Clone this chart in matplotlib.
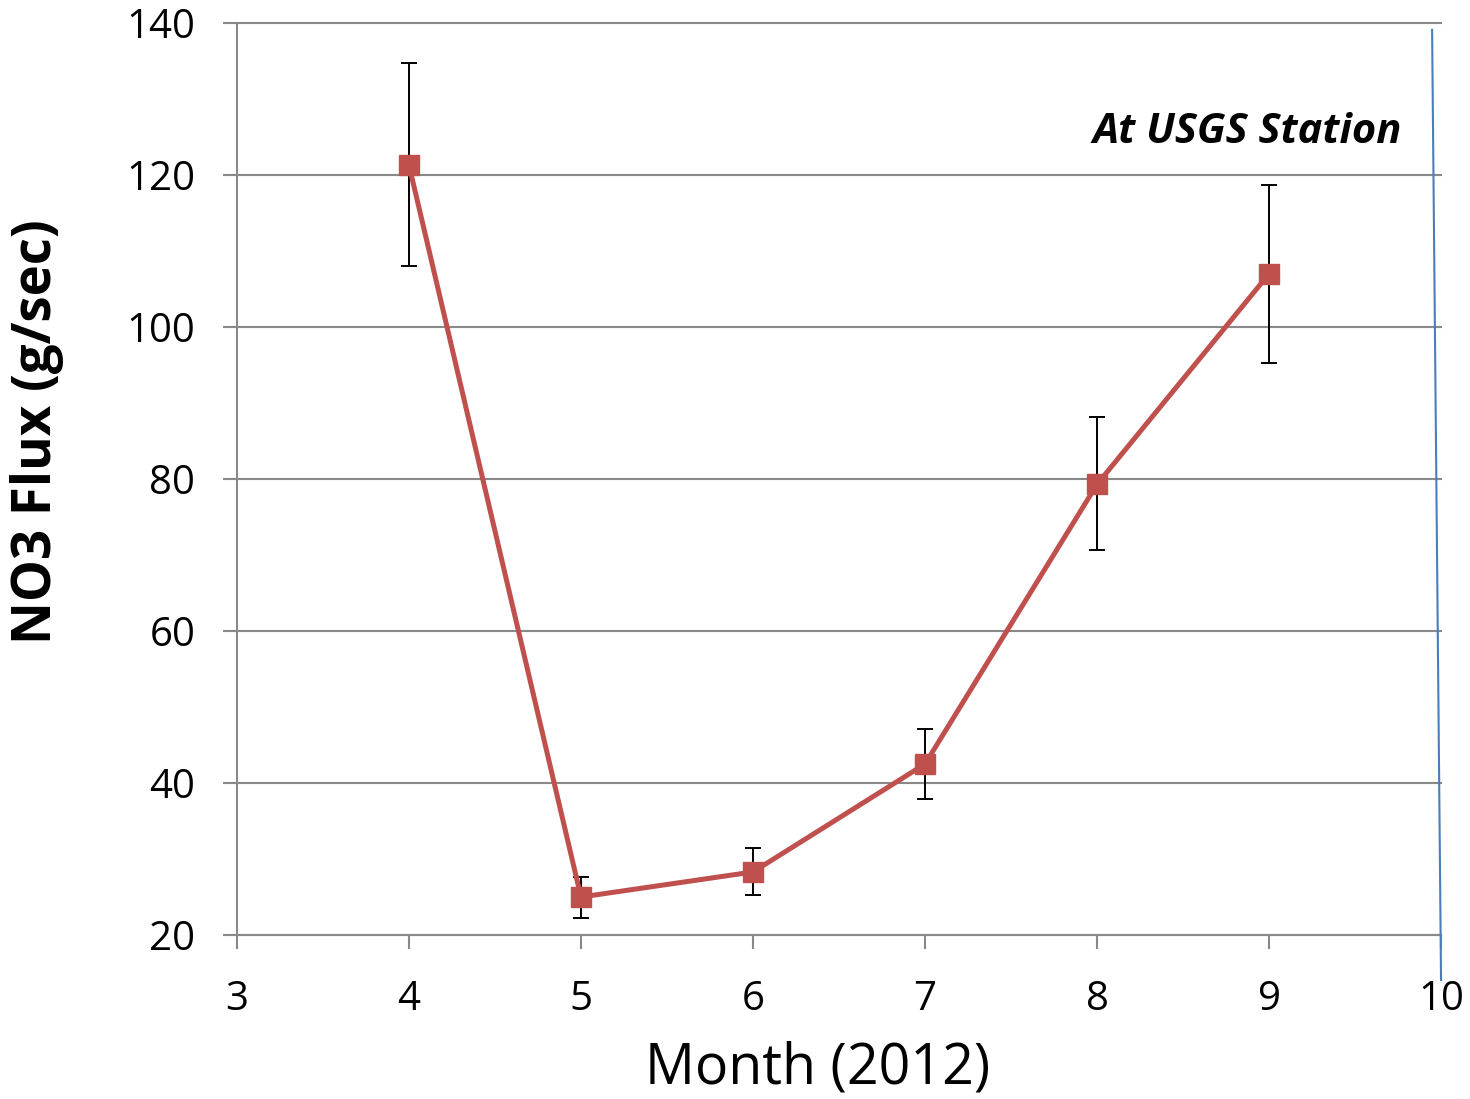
import matplotlib
matplotlib.use('Agg')
import matplotlib.pyplot as plt

# monthly NO3 flux at USGS station, 2012
months = [4, 5, 6, 7, 8, 9]
flux = [121.3, 25.0, 28.3, 42.5, 79.3, 107.0]
err_hi = [134.7, 27.6, 31.4, 47.1, 88.2, 118.7]
err_lo = [108.0, 22.2, 25.3, 37.9, 70.7, 95.3]

# stray slanted blue line near the right edge
blue_x = [9.948, 10.0]
blue_y = [139.1, 14.1]

x_ticks = [3, 4, 5, 6, 7, 8, 9, 10]
y_ticks = [20, 40, 60, 80, 100, 120, 140]

plt.rcParams['font.family'] = ['Open Sans', 'DejaVu Sans']

fig = plt.figure(figsize=(14.7, 10.99), dpi=100)
ax = fig.add_axes([0.1612, 0.1492, 0.8191, 0.8299])

yerr = [[f - lo for f, lo in zip(flux, err_lo)],
        [hi - f for f, hi in zip(flux, err_hi)]]
ax.errorbar(months, flux, yerr=yerr, fmt='none', ecolor='black',
            elinewidth=1.4, capsize=5.5, capthick=1.4, zorder=3)
ax.plot(months, flux, color='#C0504D', lw=3.6, marker='s', markersize=14,
        markeredgecolor='#C0504D', zorder=4)

ax.plot(blue_x, blue_y, color='#4A7EBB', lw=1.5, clip_on=False, zorder=5)

ax.set_xlim(3, 10)
ax.set_ylim(20, 140)
ax.set_xticks(x_ticks)
ax.set_yticks(y_ticks)
ax.tick_params(axis='both', labelsize=29, color='#898989', width=1.5, length=10)
ax.tick_params(axis='y', pad=20)
ax.tick_params(axis='x', pad=22)

for y in y_ticks:
    ax.axhline(y, color='#898989', lw=1.5, zorder=1, clip_on=False)

for side in ['top', 'right']:
    ax.spines[side].set_visible(False)
for side in ['left', 'bottom']:
    ax.spines[side].set_color('#898989')
    ax.spines[side].set_linewidth(1.5)

ax.set_xlabel('Month (2012)', fontsize=40, va='center')
ax.xaxis.set_label_coords(0.4826, -0.147)
ax.set_ylabel('NO3 Flux (g/sec)', fontsize=38, fontweight='bold', va='center')
ax.yaxis.set_label_coords(-0.166, 0.552)

ax.text(9.773, 125.6, 'At USGS Station', fontsize=30, fontweight='bold',
        fontstyle='italic', ha='right', va='center')

fig.savefig('out.png', dpi=100)
